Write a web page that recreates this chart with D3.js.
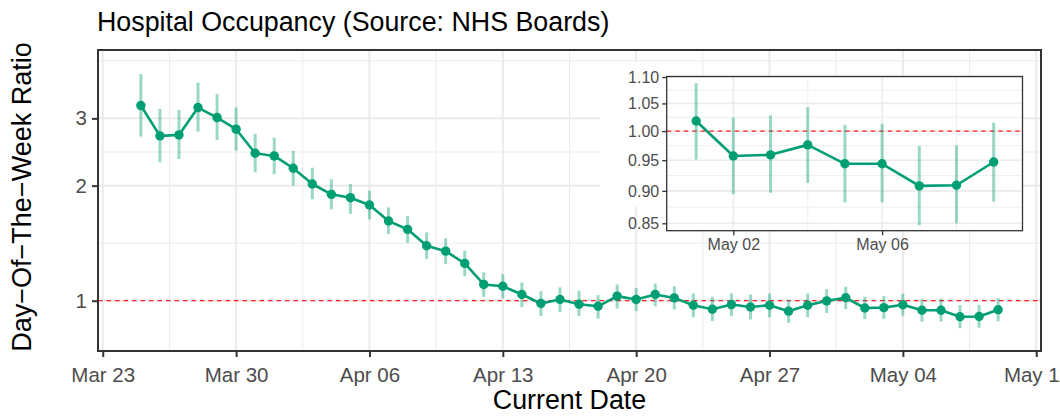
<!DOCTYPE html>
<html>
<head>
<meta charset="utf-8">
<script src="https://cdn.jsdelivr.net/npm/d3@7"></script>
<style>
  html, body { margin: 0; padding: 0; background: #fff; }
  svg { display: block; font-family: "Liberation Sans", Arial, Helvetica, sans-serif; }
</style>
</head>
<body>
<svg id="chart" width="1060" height="416"></svg>
<script>
// ---------------- DATA ----------------
const dates = [
  "2020-03-25","2020-03-26","2020-03-27","2020-03-28","2020-03-29","2020-03-30","2020-03-31",
  "2020-04-01","2020-04-02","2020-04-03","2020-04-04","2020-04-05","2020-04-06","2020-04-07",
  "2020-04-08","2020-04-09","2020-04-10","2020-04-11","2020-04-12","2020-04-13","2020-04-14",
  "2020-04-15","2020-04-16","2020-04-17","2020-04-18","2020-04-19","2020-04-20","2020-04-21",
  "2020-04-22","2020-04-23","2020-04-24","2020-04-25","2020-04-26","2020-04-27","2020-04-28",
  "2020-04-29","2020-04-30","2020-05-01","2020-05-02","2020-05-03","2020-05-04","2020-05-05",
  "2020-05-06","2020-05-07","2020-05-08","2020-05-09"
];
const ratio = [
  3.240, 2.699, 2.715, 3.201, 3.014, 2.810, 2.431,
  2.392, 2.221, 2.020, 1.898, 1.860, 1.780, 1.616,
  1.537, 1.392, 1.348, 1.252, 1.103, 1.091, 1.038,
  0.983, 1.007, 0.979, 0.967, 1.028, 1.007, 1.038,
  1.017, 0.973, 0.950, 0.977, 0.963, 0.973, 0.939,
  0.973, 0.999, 1.018, 0.957, 0.959, 0.976, 0.944,
  0.944, 0.908, 0.909, 0.947
];
const lower = [
  2.687, 2.303, 2.349, 2.770, 2.634, 2.470, 2.168,
  2.142, 1.999, 1.842, 1.734, 1.686, 1.632, 1.494,
  1.417, 1.285, 1.246, 1.159, 1.023, 1.013, 0.963,
  0.912, 0.935, 0.911, 0.898, 0.954, 0.940, 0.967,
  0.948, 0.904, 0.885, 0.911, 0.893, 0.904, 0.875,
  0.905, 0.929, 0.951, 0.895, 0.897, 0.913, 0.882,
  0.882, 0.847, 0.850, 0.883
];
const upper = [
  3.916, 3.176, 3.157, 3.722, 3.471, 3.201, 2.731,
  2.671, 2.465, 2.229, 2.078, 2.020, 1.940, 1.755,
  1.665, 1.509, 1.456, 1.351, 1.186, 1.173, 1.116,
  1.059, 1.083, 1.061, 1.034, 1.103, 1.080, 1.109,
  1.091, 1.044, 1.023, 1.046, 1.038, 1.044, 1.007,
  1.044, 1.072, 1.088, 1.024, 1.028, 1.043, 1.011,
  1.013, 0.974, 0.975, 1.015
];
const insetStart = "2020-05-01";

const xTickLabels = ["2020-03-23","2020-03-30","2020-04-06","2020-04-13","2020-04-20","2020-04-27","2020-05-04","2020-05-11"];
const yTicks = [1, 2, 3];
const yMinor = [1.414, 2.449, 4.243];
const insetXTicks = ["2020-05-02","2020-05-06"];
const insetXMinor = ["2020-05-04","2020-05-08"];
const insetYTicks = [0.85, 0.90, 0.95, 1.00, 1.05, 1.10];
const insetYMinor = [0.8746, 0.9247, 0.9747, 1.0247, 1.0747];
const refValue = 1;

const titleText = "Hospital Occupancy (Source: NHS Boards)";
const xTitle = "Current Date";
const yTitle = "Day\u2212Of\u2212The\u2212Week Ratio";

// ---------------- SETUP ----------------
const parse = d3.utcParse("%Y-%m-%d");
const data = dates.map((d, i) => ({ date: parse(d), r: ratio[i], lo: lower[i], hi: upper[i] }));
const insetData = data.filter(d => d.date >= parse(insetStart));

const GREEN = "#009E73";
const GRID = "#EBEBEB";
const AXIS = "#333333";
const TXT = "#4D4D4D";

const svg = d3.select("#chart");

const M = { left: 98, right: 1041, top: 50, bottom: 351 };
const x = d3.scaleUtc()
  .domain([new Date(Date.UTC(2020, 2, 22, 18)), new Date(Date.UTC(2020, 4, 11, 6))])
  .range([M.left, M.right]);
const y = d3.scaleLog().domain([0.7386, 4.528]).range([M.bottom, M.top]);

const I = { left: 666.7, right: 1022.5, top: 76.5, bottom: 230.7 };
const xi = d3.scaleUtc()
  .domain([new Date(Date.UTC(2020, 3, 30, 5)), new Date(Date.UTC(2020, 4, 9, 18, 36))])
  .range([I.left, I.right]);
const yi = d3.scaleLog().domain([0.839, 1.101]).range([I.bottom, I.top]);

// ---------------- MAIN PANEL ----------------
const main = svg.append("g");
main.append("rect").attr("x", M.left).attr("y", M.top)
  .attr("width", M.right - M.left).attr("height", M.bottom - M.top).attr("fill", "#fff");

const xMajor = xTickLabels.map(parse);
const xMinorDates = xMajor.slice(0, -1).map(d => new Date(d.getTime() + 3.5 * 864e5));

const grid = main.append("g");
grid.selectAll(".ymin").data(yMinor).join("line")
  .attr("x1", M.left).attr("x2", M.right).attr("y1", d => y(d)).attr("y2", d => y(d))
  .attr("stroke", GRID).attr("stroke-width", 1);
grid.selectAll(".xmin").data(xMinorDates).join("line")
  .attr("y1", M.top).attr("y2", M.bottom).attr("x1", d => x(d)).attr("x2", d => x(d))
  .attr("stroke", GRID).attr("stroke-width", 1);
grid.selectAll(".ymaj").data(yTicks).join("line")
  .attr("x1", M.left).attr("x2", M.right).attr("y1", d => y(d)).attr("y2", d => y(d))
  .attr("stroke", GRID).attr("stroke-width", 2);
grid.selectAll(".xmaj").data(xMajor).join("line")
  .attr("y1", M.top).attr("y2", M.bottom).attr("x1", d => x(d)).attr("x2", d => x(d))
  .attr("stroke", GRID).attr("stroke-width", 2);

main.append("line")
  .attr("x1", M.left).attr("x2", M.right).attr("y1", y(refValue)).attr("y2", y(refValue))
  .attr("stroke", "#FF2020").attr("stroke-width", 1.3).attr("stroke-dasharray", "4.5,4");

main.append("g").selectAll("line").data(data).join("line")
  .attr("x1", d => x(d.date)).attr("x2", d => x(d.date))
  .attr("y1", d => y(d.lo)).attr("y2", d => y(d.hi))
  .attr("stroke", GREEN).attr("stroke-opacity", 0.4).attr("stroke-width", 3);

main.append("path").datum(data)
  .attr("d", d3.line().x(d => x(d.date)).y(d => y(d.r)))
  .attr("fill", "none").attr("stroke", GREEN).attr("stroke-width", 2.6).attr("stroke-linejoin", "round");

main.append("g").selectAll("circle").data(data).join("circle")
  .attr("cx", d => x(d.date)).attr("cy", d => y(d.r)).attr("r", 4.7).attr("fill", GREEN);

// ---------------- INSET ----------------
const inset = svg.append("g");
inset.append("rect").attr("x", 600).attr("y", 62).attr("width", I.left - 600).attr("height", 207 - 62).attr("fill", "#fff");
inset.append("rect").attr("x", I.left).attr("y", I.top)
  .attr("width", I.right - I.left).attr("height", I.bottom - I.top).attr("fill", "#fff");

const ig = inset.append("g");
ig.selectAll(".ymin").data(insetYMinor).join("line")
  .attr("x1", I.left).attr("x2", I.right).attr("y1", d => yi(d)).attr("y2", d => yi(d))
  .attr("stroke", GRID).attr("stroke-width", 0.8);
ig.selectAll(".xmin").data(insetXMinor.map(parse)).join("line")
  .attr("y1", I.top).attr("y2", I.bottom).attr("x1", d => xi(d)).attr("x2", d => xi(d))
  .attr("stroke", GRID).attr("stroke-width", 0.8);
ig.selectAll(".ymaj").data(insetYTicks).join("line")
  .attr("x1", I.left).attr("x2", I.right).attr("y1", d => yi(d)).attr("y2", d => yi(d))
  .attr("stroke", GRID).attr("stroke-width", 1.6);
ig.selectAll(".xmaj").data(insetXTicks.map(parse)).join("line")
  .attr("y1", I.top).attr("y2", I.bottom).attr("x1", d => xi(d)).attr("x2", d => xi(d))
  .attr("stroke", GRID).attr("stroke-width", 1.6);

inset.append("line")
  .attr("x1", I.left).attr("x2", I.right).attr("y1", yi(refValue)).attr("y2", yi(refValue))
  .attr("stroke", "#FF2020").attr("stroke-width", 1.3).attr("stroke-dasharray", "4.5,4");

inset.append("g").selectAll("line").data(insetData).join("line")
  .attr("x1", d => xi(d.date)).attr("x2", d => xi(d.date))
  .attr("y1", d => yi(d.lo)).attr("y2", d => yi(d.hi))
  .attr("stroke", GREEN).attr("stroke-opacity", 0.4).attr("stroke-width", 3);

inset.append("path").datum(insetData)
  .attr("d", d3.line().x(d => xi(d.date)).y(d => yi(d.r)))
  .attr("fill", "none").attr("stroke", GREEN).attr("stroke-width", 2.6).attr("stroke-linejoin", "round");

inset.append("g").selectAll("circle").data(insetData).join("circle")
  .attr("cx", d => xi(d.date)).attr("cy", d => yi(d.r)).attr("r", 4.7).attr("fill", GREEN);

inset.append("rect").attr("x", I.left).attr("y", I.top)
  .attr("width", I.right - I.left).attr("height", I.bottom - I.top)
  .attr("fill", "none").attr("stroke", AXIS).attr("stroke-width", 1.3);

// inset axes
const ixAxis = inset.append("g").attr("transform", `translate(0,${I.bottom})`)
  .call(d3.axisBottom(xi).tickValues(insetXTicks.map(parse)).tickFormat(d3.utcFormat("%b %d"))
    .tickSize(4.5).tickSizeOuter(0).tickPadding(3));
const iyAxis = inset.append("g").attr("transform", `translate(${I.left},0)`)
  .call(d3.axisLeft(yi).tickValues(insetYTicks).tickFormat(d3.format(".2f"))
    .tickSize(4.5).tickSizeOuter(0).tickPadding(3));
[ixAxis, iyAxis].forEach(g => {
  g.select(".domain").remove();
  g.selectAll(".tick line").attr("stroke", AXIS).attr("stroke-width", 1.3);
  g.selectAll(".tick text").attr("fill", TXT).attr("font-size", "16px")
    .attr("font-family", "'Liberation Sans', Arial, sans-serif");
});

// ---------------- MAIN BORDER & AXES ----------------
svg.append("rect").attr("x", M.left).attr("y", M.top)
  .attr("width", M.right - M.left).attr("height", M.bottom - M.top)
  .attr("fill", "none").attr("stroke", AXIS).attr("stroke-width", 2);

const xAxis = svg.append("g").attr("transform", `translate(0,${M.bottom})`)
  .call(d3.axisBottom(x).tickValues(xMajor).tickFormat(d3.utcFormat("%b %d"))
    .tickSize(6).tickSizeOuter(0).tickPadding(10));
const yAxis = svg.append("g").attr("transform", `translate(${M.left},0)`)
  .call(d3.axisLeft(y).tickValues(yTicks).tickFormat(d3.format("d"))
    .tickSize(6).tickSizeOuter(0).tickPadding(5));
[xAxis, yAxis].forEach(g => {
  g.select(".domain").remove();
  g.selectAll(".tick line").attr("stroke", AXIS).attr("stroke-width", 2);
  g.selectAll(".tick text").attr("fill", TXT).attr("font-size", "20.5px")
    .attr("font-family", "'Liberation Sans', Arial, sans-serif");
});

// ---------------- TITLES ----------------
svg.append("text").attr("x", 97).attr("y", 31)
  .attr("font-size", "26.8px").attr("fill", "#000").text(titleText);
svg.append("text").attr("x", (M.left + M.right) / 2).attr("y", 409)
  .attr("text-anchor", "middle").attr("font-size", "26.8px").attr("fill", "#000").text(xTitle);
svg.append("text")
  .attr("transform", `translate(31,197) rotate(-90)`)
  .attr("text-anchor", "middle").attr("font-size", "27px").attr("fill", "#000").text(yTitle);
</script>
</body>
</html>
